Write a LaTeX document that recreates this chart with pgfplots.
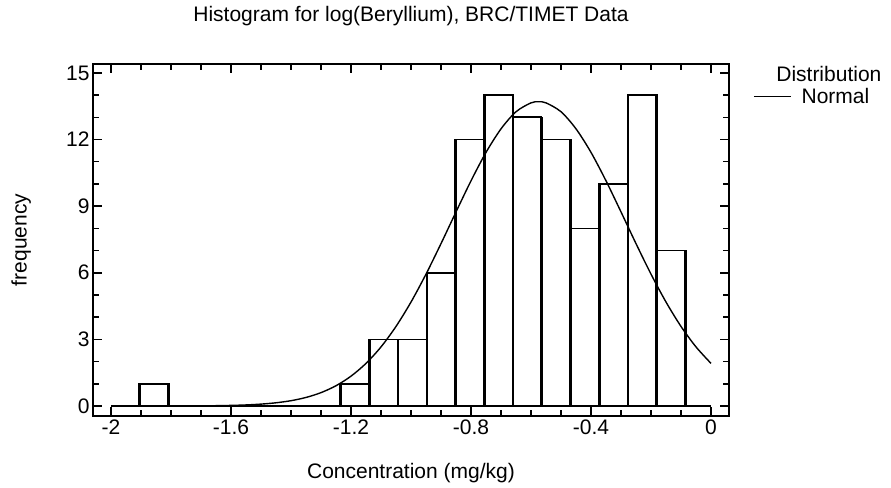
\documentclass[border=0pt]{standalone}
\usepackage{pgfplots}
\pgfplotsset{compat=1.18}
\usepackage{fontspec}
\setmainfont{Liberation Sans}
\newcommand{\ff}{\fontsize{21}{25}\selectfont}
\pgfplotstableread{
x y
-1.9070 1
-1.8112 0
-1.7154 0
-1.6196 0
-1.5238 0
-1.4280 0
-1.3322 0
-1.2364 1
-1.1406 3
-1.0448 3
-0.9490 6
-0.8532 12
-0.7574 14
-0.6616 13
-0.5658 12
-0.4700 8
-0.3742 10
-0.2784 14
-0.1826 7
-0.0868 7
}\bins
\begin{document}
\begin{tikzpicture}
\path[use as bounding box] (0pt,0pt) rectangle (891pt,487pt);
\begin{axis}[
  at={(93pt,71pt)}, anchor=south west,
  scale only axis, width=636pt, height=352pt,
  xmin=-2.06, xmax=0.06, ymin=-0.45, ymax=15.4,
  xtick={-2,-1.6,-1.2,-0.8,-0.4,0},
  xticklabels={-2,-1.6,-1.2,-0.8,-0.4,0},
  minor x tick num=3,
  ytick={0,3,6,9,12,15},
  yticklabels={0,3,6,9,12,15},
  minor y tick num=2,
  xtick pos=both, ytick pos=both,
  xticklabel pos=lower, yticklabel pos=left,
  tick align=inside,
  major tick length=9pt, minor tick length=6pt,
  tick style={black, line width=1.5pt},
  axis line style={line width=2pt},
  tick label style={font=\ff},
  clip=false,
  title={Histogram for log(Beryllium), BRC/TIMET Data},
  title style={font=\ff, at={(axis description cs:0.5,1.118)}, anchor=center},
  xlabel={Concentration (mg/kg)},
  xlabel style={font=\ff, at={(axis description cs:0.5,-0.162)}, anchor=center},
  ylabel={frequency},
  ylabel style={font=\ff, at={(axis description cs:-0.113,0.5)}, anchor=center, rotate=0},
  legend style={draw=none, fill=none, at={(axis description cs:1.0377,0.907)}, anchor=west,
    inner sep=0pt, font=\ff, column sep=10pt, nodes={inner sep=0pt}},
  legend image code/.code={\draw[#1] (0pt,0pt) -- (37pt,0pt);},
]
\addplot[black, line width=1.6pt, forget plot] coordinates {(-2,0) (0,0)};
\addplot[ybar interval, draw=black, fill=none, line width=1.6pt, forget plot] table[x=x,y=y] {\bins};
\addplot[ybar interval, draw=black, fill=none, line width=1.4pt, xshift=1.2pt, forget plot] table[x=x,y=y] {\bins};
\addplot[black, line width=1.4pt, smooth] coordinates {
(-2.00,0.0001) (-1.90,0.0005) (-1.80,0.002) (-1.70,0.007) (-1.65,0.014)
(-1.60,0.027) (-1.55,0.048) (-1.50,0.085) (-1.45,0.145) (-1.40,0.239)
(-1.35,0.385) (-1.30,0.602) (-1.25,0.913) (-1.20,1.344) (-1.15,1.919)
(-1.10,2.661) (-1.05,3.583) (-1.00,4.681) (-0.95,5.938) (-0.90,7.312)
(-0.85,8.739) (-0.80,10.14) (-0.75,11.42) (-0.70,12.48) (-0.65,13.25)
(-0.60,13.65) (-0.575,13.70) (-0.55,13.65) (-0.50,13.25) (-0.45,12.48)
(-0.40,11.42) (-0.35,10.14) (-0.30,8.739) (-0.25,7.312) (-0.20,5.938)
(-0.15,4.681) (-0.10,3.583) (-0.05,2.661) (0.00,1.919)};
\addlegendentry{Normal}
\node[font=\ff, anchor=center] at (axis description cs:1.157,0.973) {Distribution};
\end{axis}
\end{tikzpicture}
\end{document}
